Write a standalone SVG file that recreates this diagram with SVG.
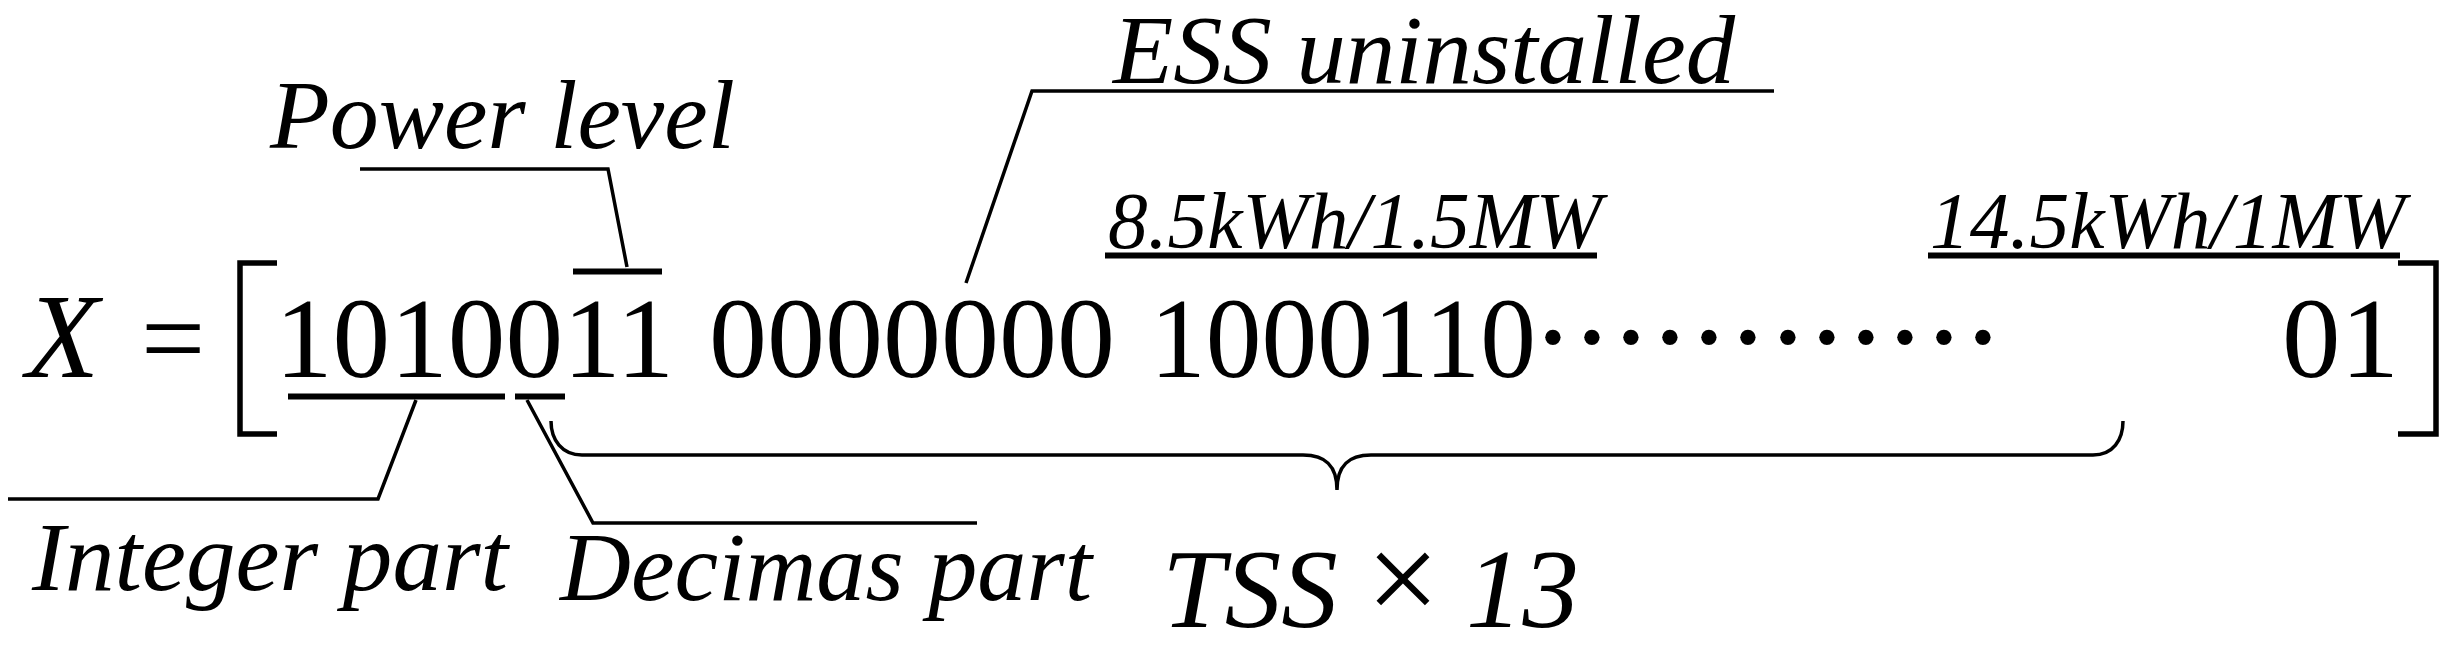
<svg xmlns="http://www.w3.org/2000/svg" width="2451" height="651" viewBox="0 0 2451 651">
<style>
  text { font-family: "Liberation Serif", "Times New Roman", serif; fill: #000; }
  .it { font-style: italic; }
  .num { font-size: 114px; }
  .lbl { font-size: 98px; font-style: italic; }
  .cap { font-size: 81px; font-style: italic; }
  .ln { fill: none; stroke: #000; stroke-width: 3.5; stroke-linejoin: miter; }
  .bar { fill: none; stroke: #000; stroke-width: 6; }
  .brk { fill: none; stroke: #000; stroke-width: 5.5; }
</style>
<rect width="2451" height="651" fill="#fff"/>

<g id="equation">
  <text class="it" x="26" y="377" font-size="120">X</text>
  <text x="141" y="377" font-size="114">=</text>
  <path class="brk" d="M277,263 H240 V434 H277"/>
  <text class="num" x="275" y="377" textLength="399" lengthAdjust="spacingAndGlyphs">1010011</text>
  <text class="num" x="709" y="377" textLength="406" lengthAdjust="spacingAndGlyphs">0000000</text>
  <text class="num" x="1150" y="377" textLength="386" lengthAdjust="spacingAndGlyphs">1000110</text>
  <text font-size="130" text-anchor="middle" y="380" x="1553 1592 1631 1670 1709 1748 1788 1827 1866 1905 1944 1983">············</text>
  <text class="num" x="2282" y="377" textLength="117" lengthAdjust="spacingAndGlyphs">01</text>
  <path class="brk" d="M2398,263 H2436 V434 H2398"/>
</g>

<g id="power-level">
  <text class="lbl" x="270" y="148" textLength="465" lengthAdjust="spacingAndGlyphs">Power level</text>
  <line class="bar" x1="573" y1="271.5" x2="662" y2="271.5"/>
</g>

<g id="ess-uninstalled">
  <text class="lbl" x="1113" y="83" font-size="102" textLength="622" lengthAdjust="spacingAndGlyphs">ESS uninstalled</text>
</g>

<g id="tss-1">
  <text class="cap" x="1108" y="248" textLength="494" lengthAdjust="spacingAndGlyphs">8.5kWh/1.5MW</text>
  <line class="bar" x1="1105" y1="255.5" x2="1597" y2="255.5"/>
</g>

<g id="tss-13">
  <text class="cap" x="1930" y="248" textLength="475" lengthAdjust="spacingAndGlyphs">14.5kWh/1MW</text>
  <line class="bar" x1="1928" y1="255.5" x2="2400" y2="255.5"/>
</g>

<g id="integer-part">
  <line class="bar" x1="288" y1="396.5" x2="505" y2="396.5"/>
  <text class="lbl" x="32" y="590" textLength="476" lengthAdjust="spacingAndGlyphs">Integer part</text>
</g>

<g id="decimas-part">
  <line class="bar" x1="515" y1="396.5" x2="565" y2="396.5"/>
  <text class="lbl" x="560" y="600" textLength="532" lengthAdjust="spacingAndGlyphs">Decimas part</text>
</g>

<g id="tss-count">
  <text class="it" y="627" font-size="113"><tspan x="1162">TSS</tspan><tspan x="1358" y="622" font-size="130">×</tspan><tspan x="1466" y="627">13</tspan></text>
</g>

<g id="connectors">
  <polyline class="ln" points="360,169 608,169 627,267"/>
  <polyline class="ln" points="966,283 1032,91 1774,91"/>
  <polyline class="ln" points="8,499 378,499 416,400"/>
  <polyline class="ln" points="527,400 593,523 977,523"/>
  <path class="ln" d="M551,421 C551,440 562,455 582,455 H1303 C1325,455 1337,465 1337,490 C1337,465 1349,455 1371,455 H2093 C2113,455 2123,440 2123,421"/>
</g>
</svg>
